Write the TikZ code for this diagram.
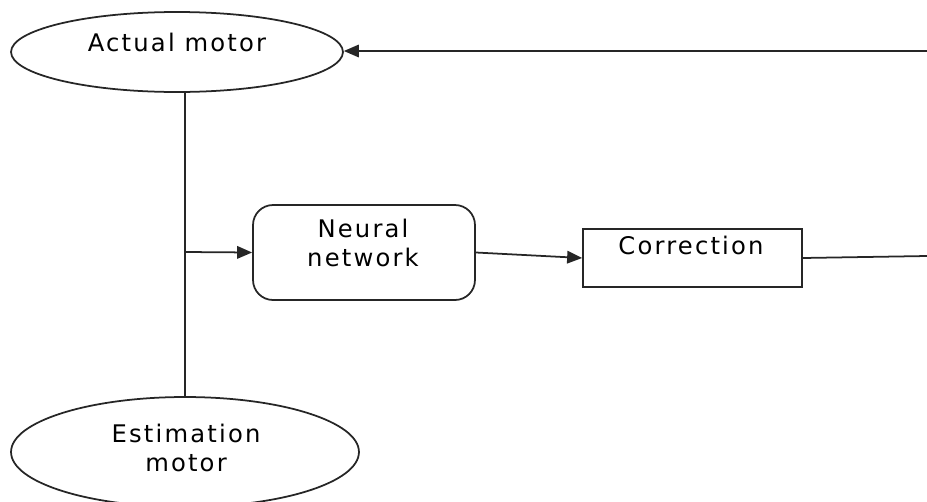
\documentclass[tikz,border=0pt]{standalone}
\usepackage{fontspec}
\setmainfont{DejaVu Sans}[LetterSpace=9]
\usepackage{tikz}
\usetikzlibrary{shapes.geometric, arrows.meta, positioning}
\tikzset{>={Triangle[length=0.3cm, width=0.25cm]}}
\tikzset{
	wire/.style={line width=1pt, black!85},
	motor/.style={draw=black!85, ellipse, line width=1pt, inner sep=0pt},
	netbox/.style={draw=black!85, rectangle, rounded corners=0.4cm, line width=1pt, inner sep=0pt},
	corrbox/.style={draw=black!85, rectangle, line width=1pt, inner sep=0pt},
	txt/.style={font=\fontsize{13.8}{16.6}\selectfont, align=center, inner sep=0pt}
}

\begin{document}
\begin{tikzpicture}[x=0.02cm, y=-0.02cm]
				\useasboundingbox (0,0) rectangle (927,501);
				% blocks
				\node[motor, minimum width=6.64cm, minimum height=1.6cm] (am) at (177,52) {};
				\node[motor, minimum width=6.96cm, minimum height=2.2cm] (em) at (185,452) {};
				\node[netbox, minimum width=4.44cm, minimum height=1.9cm] (nn) at (364,252.5) {};
				\node[corrbox, minimum width=4.38cm, minimum height=1.16cm] (cr) at (692.5,258) {};
				% texts
				\node[txt, anchor=base] (amtxt) at (177,51) {Actual motor};
				\node[txt, anchor=north] (emtxt) at (186,424) {Estimation\\motor};
				\node[txt, anchor=north] (nntxt) at (363,219) {Neural\\network};
				\node[txt, anchor=base] (crtxt) at (691,254) {Correction};
				% connectors
				\coordinate (j) at (185,252);
				\coordinate (top) at (927,51);
				\coordinate (out) at (927,256);
				\draw[wire] (am.south -| j) -- (em.north -| j);
				\draw[wire, ->] (j) -- (nn.west);
				\draw[wire, ->] (nn.east) -- (cr.west);
				\draw[wire] (cr.east) -- (out);
				\draw[wire, ->] (top) -- (top -| am.east);
			\end{tikzpicture}
\end{document}
